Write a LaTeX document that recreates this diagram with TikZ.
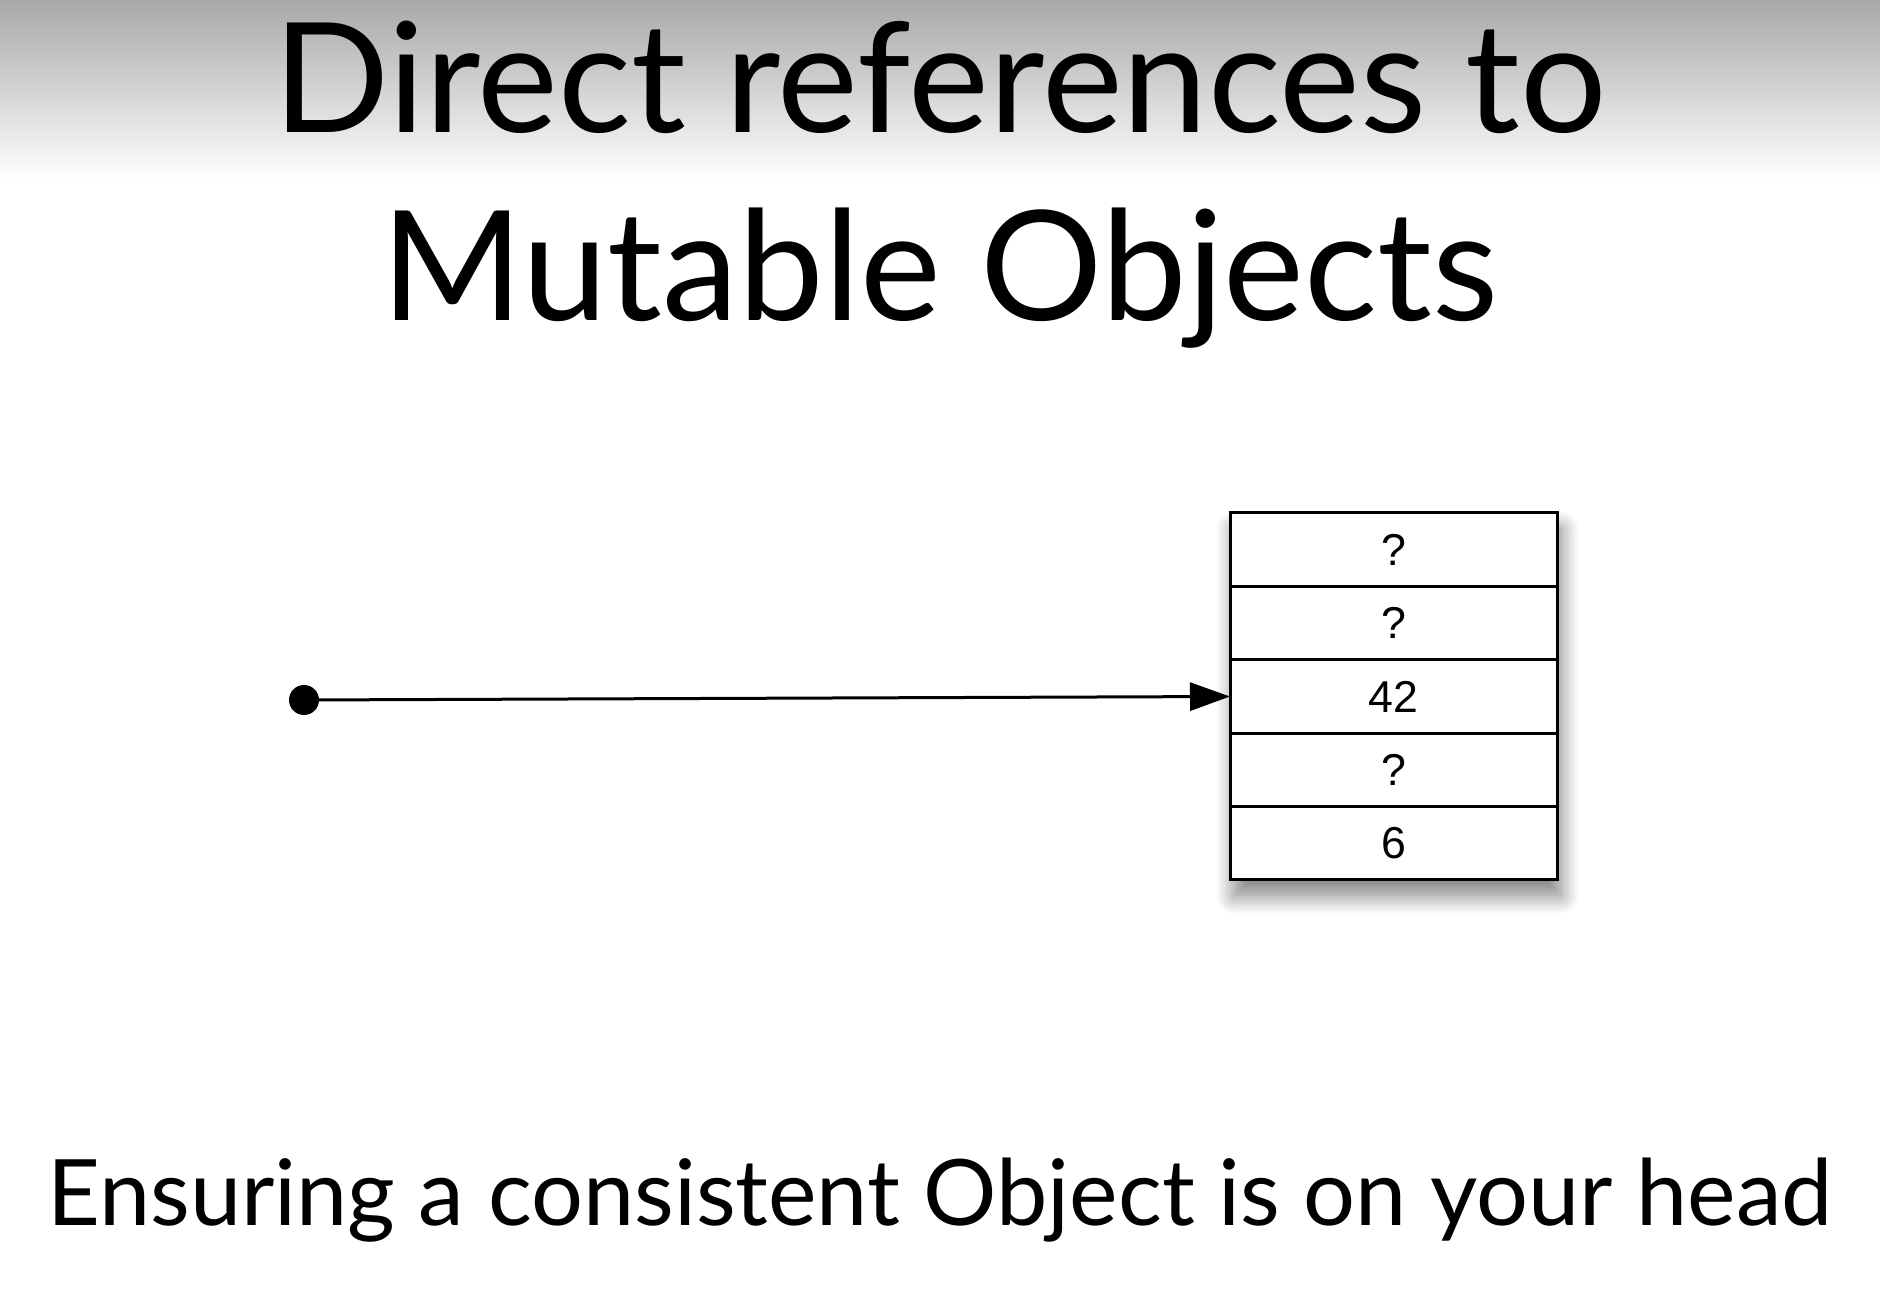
\documentclass[tikz,border=0pt]{standalone}
\usepackage{fontspec}
\setmainfont{Lato}
\newfontfamily\cellfont{Liberation Sans}
\usetikzlibrary{arrows.meta, positioning, fit, backgrounds, shadows.blur}
\tikzset{
  ttl/.style  = {align=center, font=\fontsize{43.5}{53.6}\selectfont, inner sep=0pt},
  sub/.style  = {font=\fontsize{26.1}{30}\selectfont, inner sep=0pt},
  cell/.style = {draw, line width=0.3mm, fill=white, minimum width=32.7mm,
                 minimum height=7.34mm, inner sep=0pt, outer sep=0pt,
                 font=\cellfont\fontsize{12.7}{14}\selectfont},
  fl/.style   = {-{Triangle[length=4mm, width=2.8mm]}, line width=0.3mm},
}
\begin{document}
\begin{tikzpicture}[x=0.1mm, y=0.1mm]
  \useasboundingbox (0,0) rectangle (1880,1300);
  \fill[top color={rgb,255:red,168;green,168;blue,168}, bottom color=white]
    (0,1300) rectangle (1880,1120);
  \node[ttl, anchor=base] (title) at (940,979) {Direct references to\\Mutable Objects};
  % the object, five slots
  \node[cell] (c1) at (1393.5,750.3) {?};
  \node[cell, below=0pt of c1] (c2) {?};
  \node[cell, below=0pt of c2] (c3) {42};
  \node[cell, below=0pt of c3] (c4) {?};
  \node[cell, below=0pt of c4] (c5) {6};
  \begin{scope}[on background layer]
    \node[fit=(c1)(c5), inner sep=0pt, fill=white,
          blur shadow={shadow xshift=0.4mm, shadow yshift=-1.6mm,
                       shadow blur radius=1.8mm, shadow blur steps=20,
                       shadow opacity=50}] (obj) {};
  \end{scope}
  % the reference
  \node[circle, fill, inner sep=0pt, minimum size=3mm] (ref) at (304,600) {};
  \draw[fl] (ref.center) -- (c3.west);
  \node[sub, anchor=base] (caption) at (940,75) {Ensuring a consistent Object is on your head};
\end{tikzpicture}
\end{document}
